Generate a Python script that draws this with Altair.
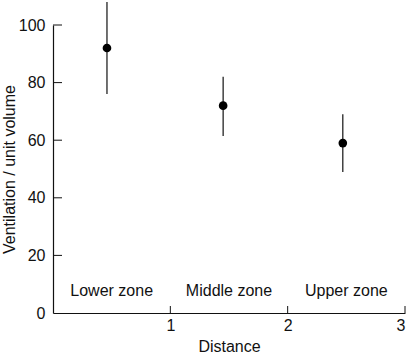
import altair as alt
import pandas as pd

# Data
zones = ["Lower zone", "Middle zone", "Upper zone"]
zone_x = [0.5, 1.5, 2.5]
zone_label_y = [6, 6, 6]
dist = [0.46, 1.45, 2.47]
vent = [92, 72, 59]
err_low = [76, 61.5, 49]
err_high = [108, 82, 69]
y_ticks = [20, 40, 60, 80, 100]
x_ticks = [1, 2, 3]
y_tick_labels = [0, 20, 40, 60, 80, 100]

FONT = "Liberation Sans"
INK = "#111111"

pts = pd.DataFrame({"d": dist, "v": vent, "lo": err_low, "hi": err_high})
zdf = pd.DataFrame({"zone": zones, "x": zone_x, "y": zone_label_y})
ytdf = pd.DataFrame({"t": y_ticks})
xtdf = pd.DataFrame({"t": x_ticks})

xscale = alt.Scale(domain=[0, 3], nice=False, zero=False)
yscale = alt.Scale(domain=[0, 100], nice=False)
axis_style = dict(ticks=False, tickSize=0, grid=False, domainColor=INK, domainWidth=1.2,
                  labelColor=INK, titleColor=INK, labelFont=FONT, titleFont=FONT,
                  labelFontSize=16, titleFontSize=16, titleFontWeight="normal")
xaxis = alt.Axis(values=x_ticks, labelPadding=4, title="Distance", titlePadding=5,
                 **axis_style)
yaxis = alt.Axis(values=y_tick_labels, labelPadding=8,
                 title="Ventilation / unit volume", titlePadding=1, **axis_style)

err = alt.Chart(pts).mark_rule(color=INK, strokeWidth=1.2).encode(
    x=alt.X("d:Q", scale=xscale, axis=xaxis),
    y=alt.Y("lo:Q", scale=yscale, axis=yaxis),
    y2="hi:Q",
)
dots = alt.Chart(pts).mark_circle(color="black", opacity=1, size=75).encode(
    x=alt.X("d:Q", scale=xscale, axis=xaxis),
    y=alt.Y("v:Q", scale=yscale, axis=yaxis),
)
labels = alt.Chart(zdf).mark_text(font=FONT, fontSize=16, color=INK,
                                  baseline="alphabetic").encode(
    x=alt.X("x:Q", scale=xscale, axis=xaxis),
    y=alt.Y("y:Q", scale=yscale, axis=yaxis),
    text="zone:N",
)
yt = alt.Chart(ytdf).mark_rule(color=INK, strokeWidth=1).encode(
    y=alt.Y("t:Q", scale=yscale, axis=yaxis),
    x=alt.value(0),
    x2=alt.value(9),
)
xt = alt.Chart(xtdf).mark_rule(color=INK, strokeWidth=1).encode(
    x=alt.X("t:Q", scale=xscale, axis=xaxis),
    y=alt.value(288),
    y2=alt.value(281),
)

chart = alt.layer(err, dots, labels, yt, xt).properties(
    width=352, height=288,
    autosize=alt.AutoSizeParams(type="none"),
    padding={"left": 53, "top": 25, "right": 4, "bottom": 40},
    background="white",
).configure_view(stroke=None)

chart.save("out.html", embed_options={"renderer": "svg", "actions": False})
